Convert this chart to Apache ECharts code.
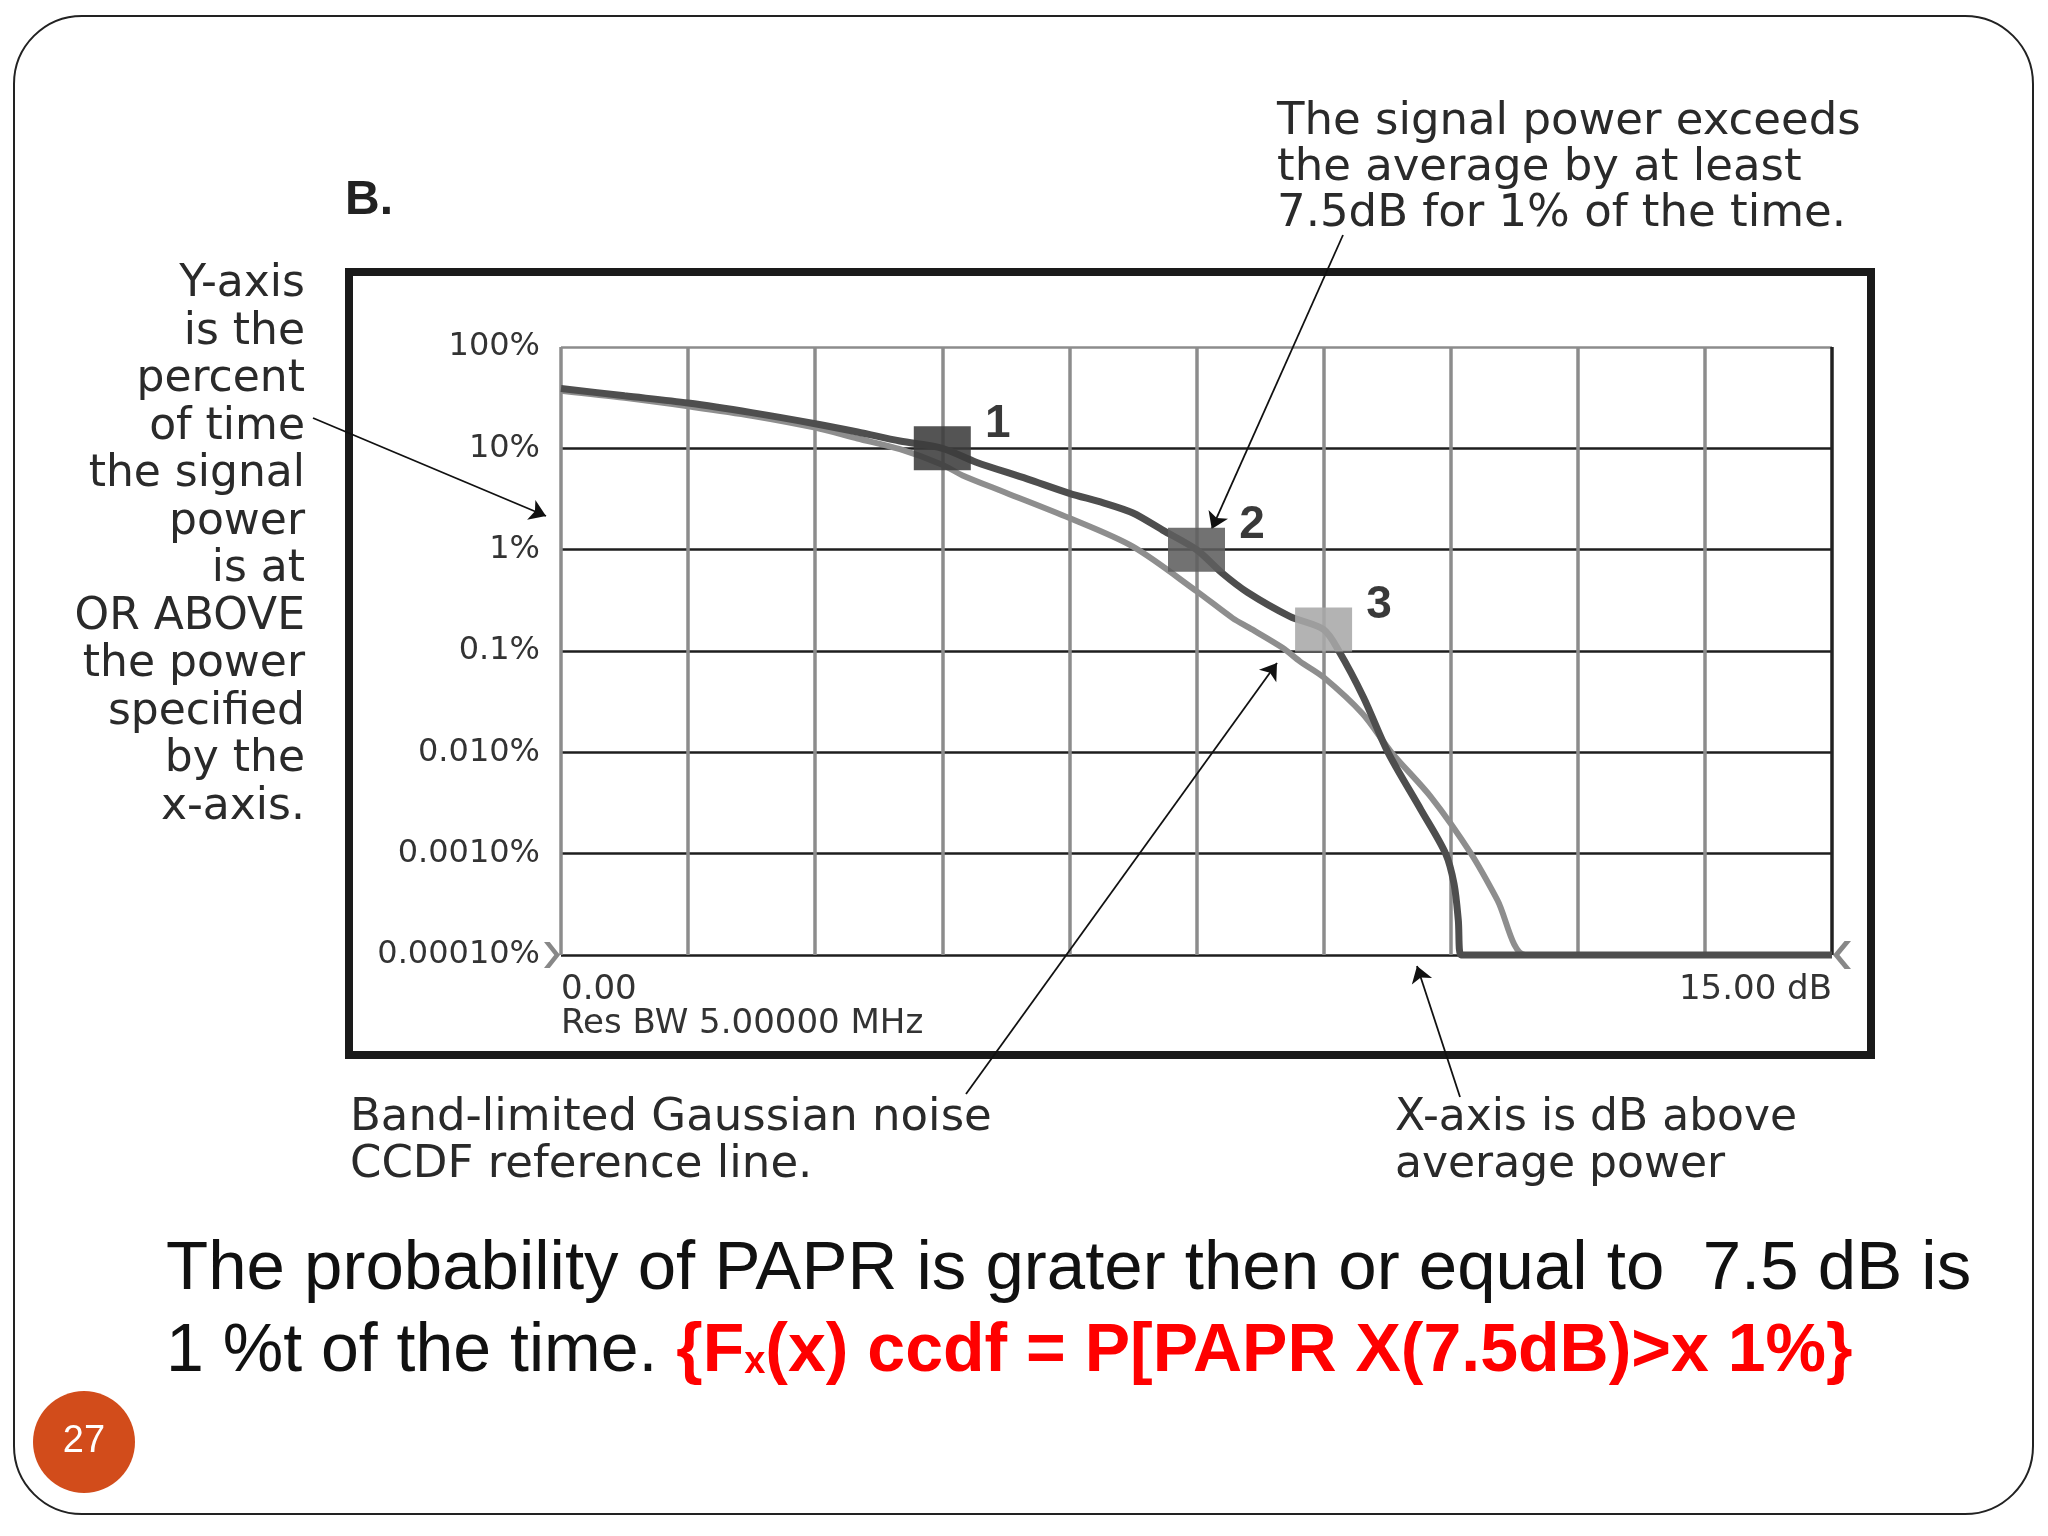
<!DOCTYPE html>
<html><head><meta charset="utf-8">
<script src="https://cdn.jsdelivr.net/npm/echarts@6/dist/echarts.min.js"></script>
<style>html,body{margin:0;padding:0;background:#fff}#c{width:2048px;height:1536px}</style>
</head><body><div id="c"></div>
<script>
// ---- data ----
const xTickLabels = ['0.00', '15.00 dB'];
const xSubLabel = 'Res BW 5.00000 MHz';
const yTickLabels = ['0.00010%', '0.0010%', '0.010%', '0.1%', '1%', '10%', '100%'];
// measured signal CCDF (dB above average, % of time)
const signalX = [0, 0.75, 1.5, 2.25, 3.0, 3.5, 4.0, 4.5, 4.9, 5.5, 6.0, 6.4, 6.75, 7.1, 7.5, 7.8, 8.1, 8.6, 9.0, 9.18, 9.47, 9.76, 10.15, 10.44, 10.54, 10.59, 10.62, 12, 13.5, 15];
const signalY = [39, 33, 28, 22.5, 17.5, 14.5, 11.8, 10, 7.3, 5, 3.6, 2.9, 2.3, 1.56, 1.0, 0.59, 0.38, 0.22, 0.163, 0.1, 0.035, 0.01, 0.0027, 0.001, 0.0005, 0.00022, 0.0001, 0.0001, 0.0001, 0.0001];
// band-limited Gaussian noise reference
const refX = [0, 0.75, 1.5, 2.25, 3.0, 3.5, 4.0, 4.5, 4.74, 5.25, 6.0, 6.75, 7.5, 7.93, 8.12, 8.52, 8.72, 9.0, 9.46, 9.8, 10.27, 10.74, 11.05, 11.38, 12, 13.5, 15];
const refY = [37, 31.5, 26, 21, 16, 12.5, 9.8, 6.9, 5.4, 3.65, 2.05, 1.07, 0.39, 0.21, 0.17, 0.107, 0.079, 0.055, 0.024, 0.01, 0.0036, 0.001, 0.00035, 0.0001, 0.0001, 0.0001, 0.0001];
// markers
const markerX = [4.5, 7.5, 9.0];
const markerY = [10, 1, 0.163];
const markerLabels = ['1', '2', '3'];
const markerColors = ['#3c3c3c', '#5e5e5e', '#a9a9a9'];
// reference level chevrons at the ends of the x axis
const chevronX = [0, 15];
const chevronY = [0.0001, 0.0001];
// texts
const leftNote = ['Y-axis', 'is the', 'percent', 'of time', 'the signal', 'power', 'is at', 'OR ABOVE', 'the power', 'specified', 'by the', 'x-axis.'];
const topNote = ['The signal power exceeds', 'the average by at least', '7.5dB for 1% of the time.'];
const bottomLeftNote = ['Band-limited Gaussian noise', 'CCDF reference line.'];
const bottomRightNote = ['X-axis is dB above', 'average power'];
const captionLine1 = 'The probability of PAPR is grater then or equal to  7.5 dB is';
const captionLine2Black = '1 %t of the time. ';
const captionRed1 = '{F';
const captionSub = 'x';
const captionRed2 = '(x) ccdf = P[PAPR X(7.5dB)>x 1%}';
const pageNumber = '27';
const panelLabel = 'B.';

const chart = echarts.init(document.getElementById('c'), null, {renderer: 'canvas'});
const annFont = '"DejaVu Sans", sans-serif';
const annColor = '#2a2a2a';
const capFont = '"Liberation Sans", Arial, sans-serif';

const option = {
  animation: false,
  backgroundColor: '#fff',
  grid: {left: 561, top: 347, width: 1271, height: 608, containLabel: false},
  xAxis: {
    type: 'value', min: 0, max: 15, interval: 1.5,
    axisLine: {show: false}, axisTick: {show: false},
    splitLine: {show: true, lineStyle: {width: 3.5, color: ['#8c8c8c','#8c8c8c','#8c8c8c','#8c8c8c','#8c8c8c','#8c8c8c','#8c8c8c','#8c8c8c','#8c8c8c','#8c8c8c','#222']}},
    axisLabel: {
      show: true, margin: 18, fontFamily: annFont, fontSize: 34, color: '#333', lineHeight: 34,
      showMinLabel: true, showMaxLabel: true, hideOverlap: false,
      alignMinLabel: 'left', alignMaxLabel: 'right',
      formatter: function (v) {
        if (Math.abs(v) < 1e-9) return xTickLabels[0] + '\n' + xSubLabel;
        if (Math.abs(v - 15) < 1e-9) return xTickLabels[1];
        return '';
      }
    }
  },
  yAxis: {
    type: 'log', logBase: 10, min: 0.0001, max: 100, splitNumber: 6,
    axisLine: {show: false}, axisTick: {show: false},
    splitLine: {show: true, lineStyle: {width: 2.5, color: ['#1e1e1e','#1e1e1e','#1e1e1e','#1e1e1e','#1e1e1e','#1e1e1e','#8c8c8c']}},
    axisLabel: {
      margin: 21, fontFamily: annFont, fontSize: 32, color: '#333',
      formatter: function (v) { return yTickLabels[Math.round(Math.log10(v)) + 4]; }
    }
  },
  series: [
    {
      name: 'Gaussian reference', type: 'line', z: 2, clip: false,
      data: refX.map((x, i) => [x, refY[i]]),
      showSymbol: false, smooth: 0.3,
      lineStyle: {color: '#8e8e8e', width: 6},
      markLine: {
        silent: true, animation: false, symbol: ['none', 'arrow'], symbolSize: 16,
        label: {show: false}, emphasis: {disabled: true},
        lineStyle: {color: '#111', width: 1.8, type: 'solid'},
        data: [
          [{x: 313, y: 418}, {x: 546, y: 516}],
          [{x: 1343, y: 235}, {coord: [7.68, 1.6]}],
          [{x: 966, y: 1094}, {coord: [8.45, 0.076]}],
          [{x: 1460, y: 1097}, {x: 1417, y: 966}]
        ]
      }
    },
    {
      name: 'Signal', type: 'line', z: 3, clip: false,
      data: signalX.map((x, i) => [x, signalY[i]]),
      showSymbol: false, smooth: 0.3,
      lineStyle: {color: '#4e4e4e', width: 7}
    },
    {
      name: 'ref level', type: 'scatter', z: 4, clip: false, silent: true,
      data: [
        {value: [chevronX[0], chevronY[0]], symbol: 'path://M0,0 L5,0 L14,11 L5,22 L0,22 L9,11 Z', symbolSize: [16, 26], symbolOffset: [-9, 0]},
        {value: [chevronX[1], chevronY[1]], symbol: 'path://M14,0 L9,0 L0,11 L9,22 L14,22 L5,11 Z', symbolSize: [18, 28], symbolOffset: [10, 0]}
      ],
      itemStyle: {color: '#6a6a6a'}
    },
    {
      name: 'markers', type: 'scatter', z: 5, clip: false, silent: true,
      symbol: 'rect', symbolSize: [57, 44],
      data: markerX.map((x, i) => ({value: [x, markerY[i]], name: markerLabels[i], itemStyle: {color: markerColors[i], opacity: 0.88}})),
      label: {
        show: true, position: [84, -2], align: 'center', verticalAlign: 'middle',
        formatter: p => p.name, fontFamily: capFont, fontWeight: 'bold', fontSize: 46, color: '#1e1e1e'
      }
    }
  ],
  graphic: [
    {type: 'rect', z: 0, silent: true, shape: {x: 14, y: 16, width: 2019, height: 1498, r: 68}, style: {fill: 'none', stroke: '#222', lineWidth: 2}},
    {type: 'rect', z: 0, silent: true, shape: {x: 349, y: 272, width: 1522, height: 783}, style: {fill: 'none', stroke: '#1a1a1a', lineWidth: 8}},
    {type: 'text', silent: true, style: {x: 345, y: 201, text: panelLabel, font: 'bold 48px "Liberation Sans", Arial, sans-serif', fill: '#222', verticalAlign: 'middle'}},
    {type: 'text', silent: true, style: {x: 305, y: 261, text: leftNote.join('\n'), fontFamily: annFont, fontSize: 44, lineHeight: 47.5, fill: annColor, align: 'right', verticalAlign: 'top'}},
    {type: 'text', silent: true, style: {x: 1277, y: 99, text: topNote.join('\n'), fontFamily: annFont, fontSize: 45, lineHeight: 46, fill: annColor, align: 'left', verticalAlign: 'top'}},
    {type: 'text', silent: true, style: {x: 350, y: 1095, text: bottomLeftNote.join('\n'), fontFamily: annFont, fontSize: 45, lineHeight: 47, fill: annColor, align: 'left', verticalAlign: 'top'}},
    {type: 'text', silent: true, style: {x: 1395, y: 1095, text: bottomRightNote.join('\n'), fontFamily: annFont, fontSize: 44, lineHeight: 47, fill: annColor, align: 'left', verticalAlign: 'top'}},
    {type: 'text', silent: true, style: {x: 166, y: 1270, text: captionLine1, fontFamily: capFont, fontSize: 69, fill: '#111', verticalAlign: 'middle'}},
    {type: 'text', silent: true, style: {
      x: 166, y: 1352, verticalAlign: 'middle',
      text: '{k|' + captionLine2Black + '}' + captionRed1 + '{s|' + captionSub + '}' + captionRed2,
      fontFamily: capFont, fontSize: 68, fontWeight: 'bold', fill: '#ff0000', lineHeight: 80,
      rich: {
        k: {fontFamily: capFont, fontSize: 68, fontWeight: 'normal', fill: '#111', color: '#111', lineHeight: 80},
        s: {fontFamily: capFont, fontSize: 38, fontWeight: 'bold', fill: '#ff0000', color: '#ff0000', lineHeight: 80, verticalAlign: 'bottom', padding: [0, 0, 10, 0]}
      }
    }},
    {type: 'circle', silent: true, shape: {cx: 84, cy: 1442, r: 51}, style: {fill: '#d24c1b'}},
    {type: 'text', silent: true, style: {x: 84, y: 1442, text: pageNumber, fontFamily: capFont, fontSize: 38, fill: '#fff', align: 'center', verticalAlign: 'middle'}}
  ]
};
chart.setOption(option);
</script>
</body></html>
